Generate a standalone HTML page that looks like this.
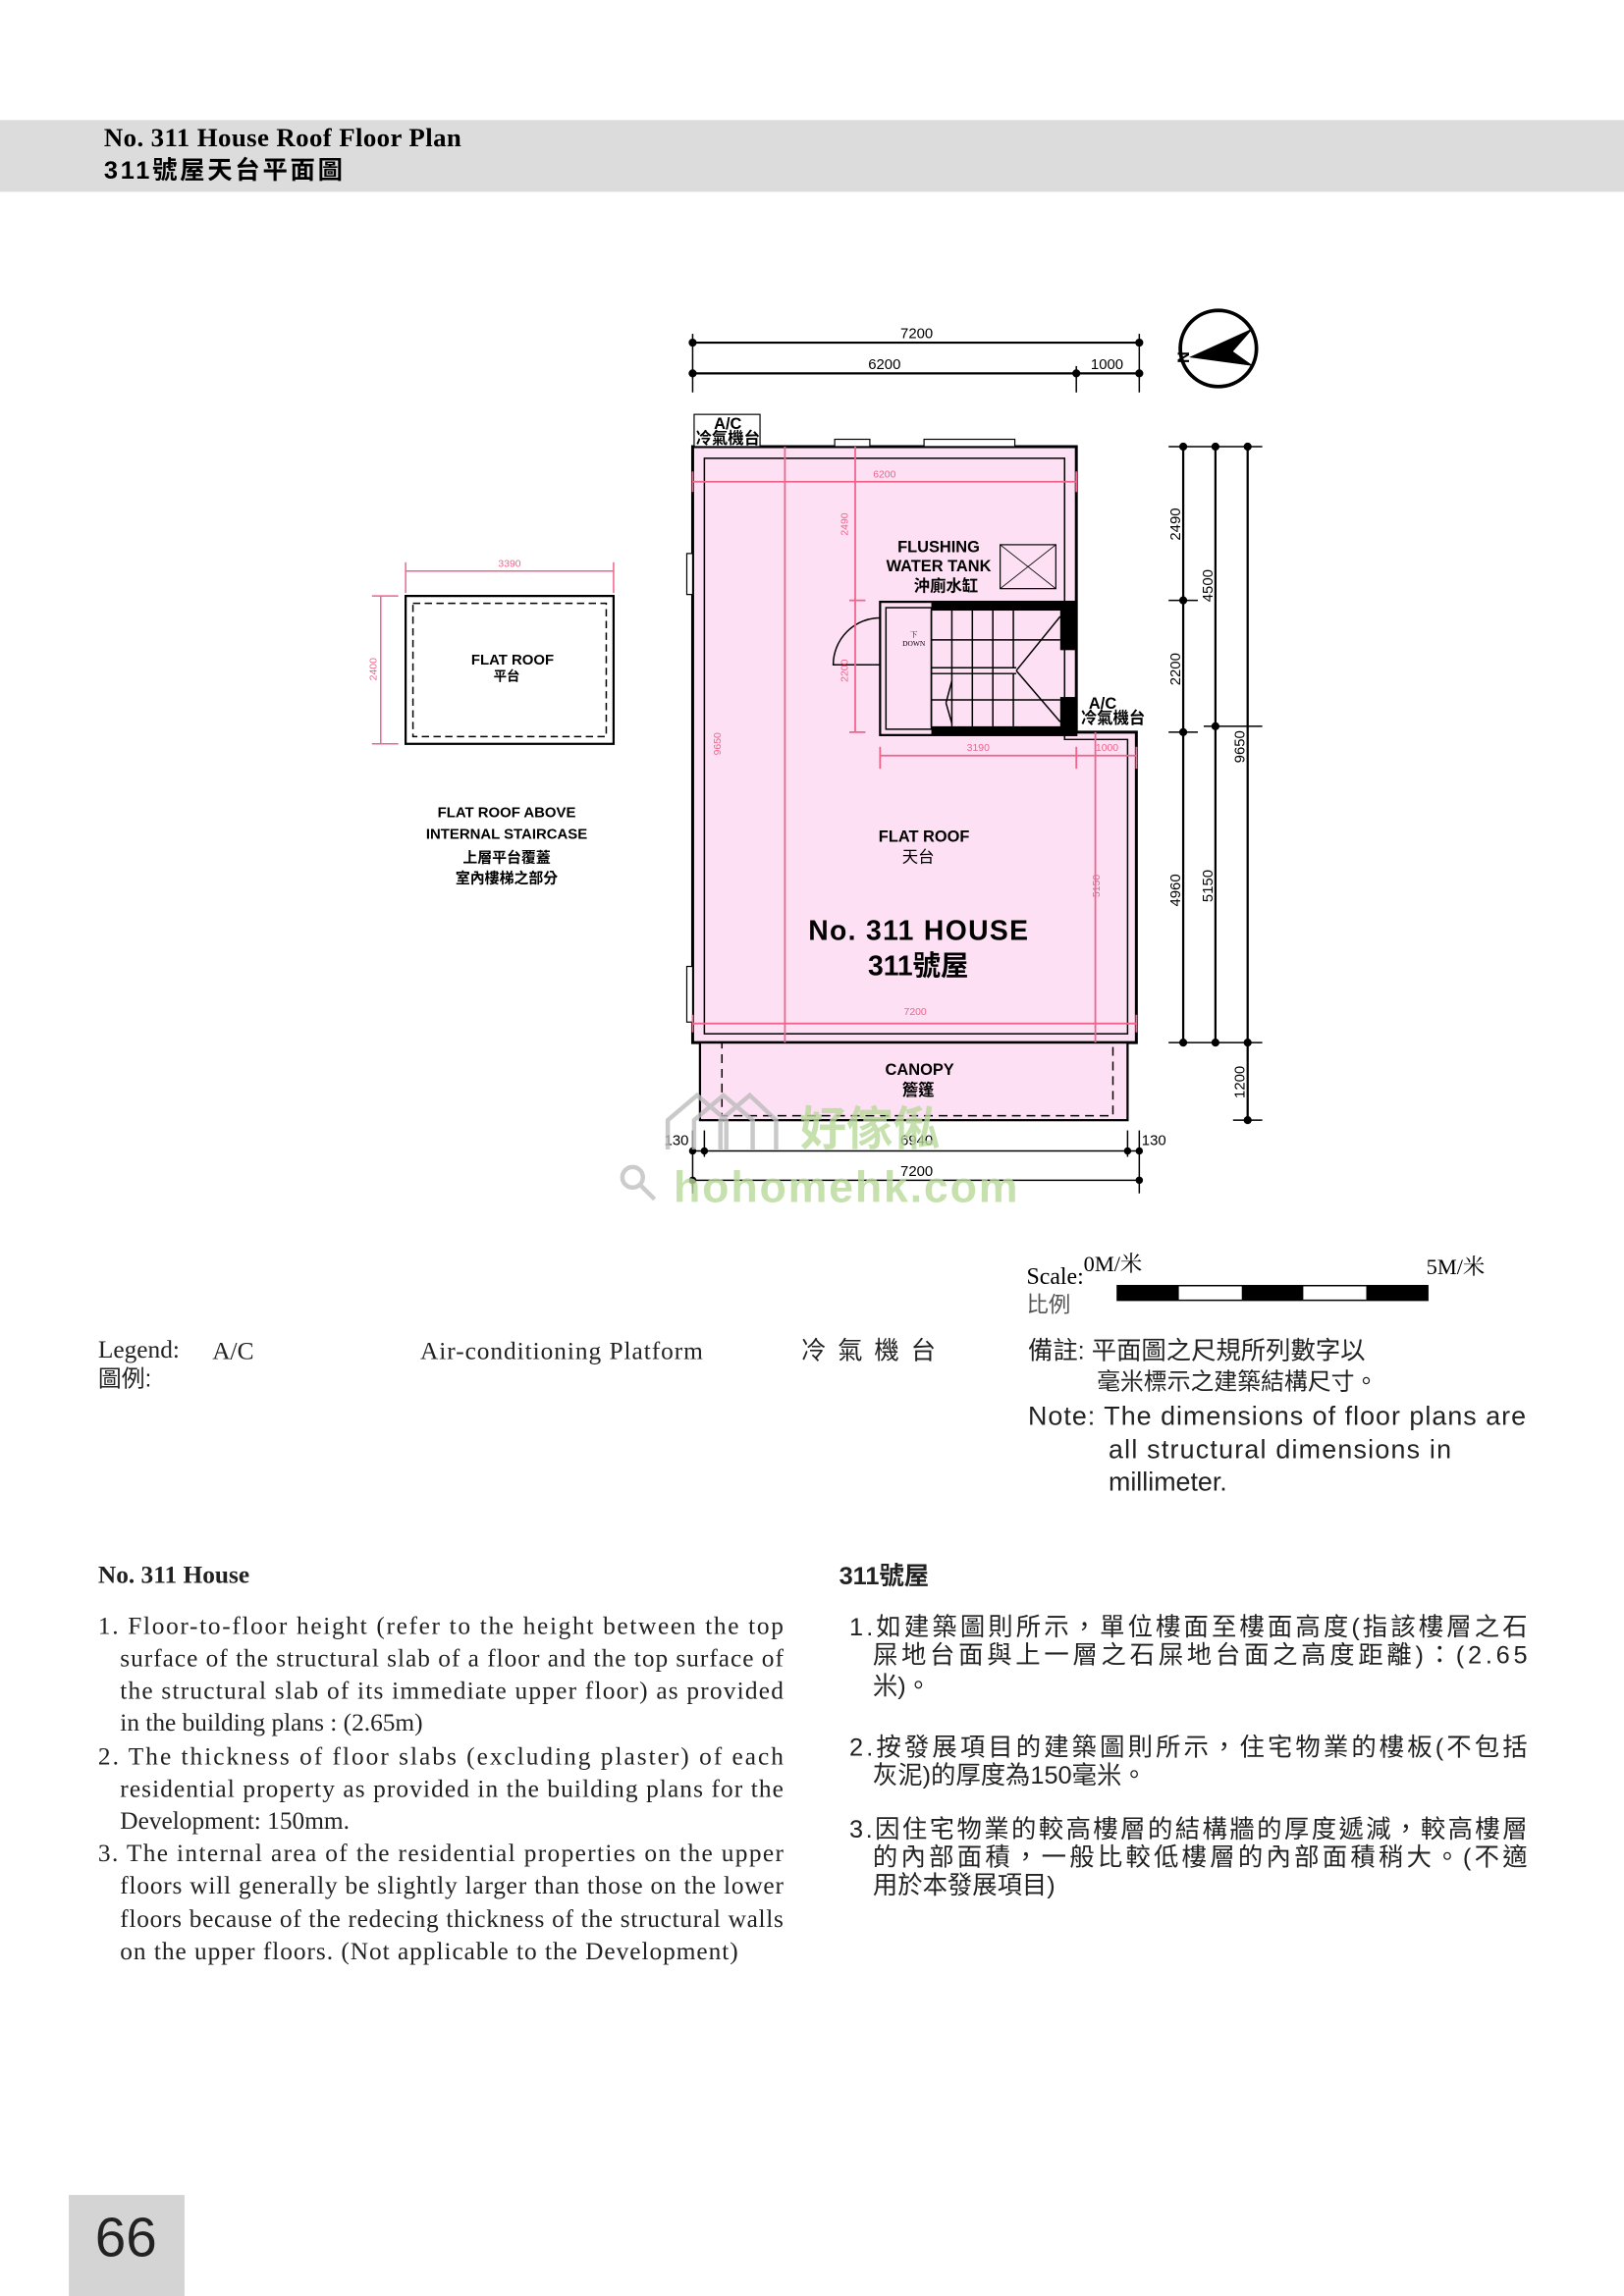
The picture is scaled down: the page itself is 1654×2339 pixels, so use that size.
<!DOCTYPE html>
<html><head><meta charset="utf-8"><style>
html,body{margin:0;padding:0;background:#fff}
svg{display:block}
.s{font-family:"Liberation Serif","Noto Serif CJK SC",serif}
.a{font-family:"Liberation Sans","Noto Sans CJK TC",sans-serif}
</style></head><body>
<svg width="1654" height="2339" viewBox="0 0 1109 1568" preserveAspectRatio="none" xmlns="http://www.w3.org/2000/svg">
<rect x="0" y="82" width="1109" height="49" fill="#dcdcdc"/>
<text x="71" y="100" class="s" font-size="18" font-weight="bold" textLength="244">No. 311 House Roof Floor Plan</text>
<text x="71" y="122" class="a" font-size="17" font-weight="bold" textLength="163">311號屋天台平面圖</text>

<!-- top dims -->
<g stroke="#000" stroke-width="1.5" fill="#000">
<line x1="473" y1="234" x2="778" y2="234"/><line x1="473" y1="255" x2="778" y2="255"/>
<line x1="473" y1="228" x2="473" y2="268" stroke-width="1"/><line x1="778" y1="228" x2="778" y2="268" stroke-width="1"/><line x1="735" y1="250" x2="735" y2="268" stroke-width="1"/>
<circle cx="473" cy="234" r="2"/><circle cx="778" cy="234" r="2"/><circle cx="473" cy="255" r="2"/><circle cx="735" cy="255" r="2"/><circle cx="778" cy="255" r="2"/>
</g>
<g class="a" font-size="10" text-anchor="middle"><text x="626" y="231">7200</text><text x="604" y="252">6200</text><text x="756" y="252">1000</text></g>
<!-- compass -->
<circle cx="832" cy="238" r="26" fill="none" stroke="#000" stroke-width="2.5"/>
<polygon points="812,244 856,224 842,240 856,250" fill="#000"/>
<text x="804" y="248" class="a" font-size="11" font-weight="bold" transform="rotate(-90 808 244)">N</text>

<!-- plan -->
<path d="M473,305 H735 V500 H776 V712 H473 Z" fill="#fde0f3" stroke="#000" stroke-width="2"/>
<path d="M481,313 H727 V505 H770 V706 H481 Z" fill="none" stroke="#000" stroke-width="1"/>
<rect x="478" y="712" width="292" height="53" fill="#fde0f3" stroke="#000" stroke-width="1.5"/>
<rect x="493" y="712" width="267" height="50" fill="none" stroke="#000" stroke-width="1" stroke-dasharray="6,4"/>
<rect x="474" y="283" width="45" height="22" fill="#fff" stroke="#000" stroke-width="0.8"/>
<rect x="570" y="300" width="24" height="5" fill="#fff" stroke="#000" stroke-width="0.8"/>
<rect x="631" y="300" width="62" height="5" fill="#fff" stroke="#000" stroke-width="0.8"/>
<rect x="469" y="378" width="4" height="28" fill="#fff" stroke="#000" stroke-width="0.8"/>
<rect x="469" y="660" width="4" height="38" fill="#fff" stroke="#000" stroke-width="0.8"/>
<!-- tank -->
<rect x="683" y="372" width="38" height="30" fill="none" stroke="#000" stroke-width="0.8"/>
<line x1="683" y1="372" x2="721" y2="402" stroke="#000" stroke-width="0.6"/><line x1="721" y1="372" x2="683" y2="402" stroke="#000" stroke-width="0.6"/>
<!-- stair -->
<rect x="601" y="411" width="134" height="91" fill="none" stroke="#000" stroke-width="1.5"/>
<rect x="636" y="411" width="99" height="6" fill="#000"/><rect x="636" y="496" width="99" height="6" fill="#000"/>
<rect x="724" y="411" width="11" height="33" fill="#000"/><rect x="724" y="476" width="11" height="26" fill="#000"/>
<rect x="605" y="415" width="31" height="83" fill="none" stroke="#000" stroke-width="1"/>
<g stroke="#000" stroke-width="1"><line x1="636" y1="417" x2="636" y2="496"/>
<line x1="650" y1="417" x2="650" y2="496"/><line x1="664" y1="417" x2="664" y2="496"/><line x1="678" y1="417" x2="678" y2="496"/><line x1="692" y1="417" x2="692" y2="456"/><line x1="692" y1="460" x2="692" y2="496"/>
<line x1="636" y1="456" x2="694" y2="456"/><line x1="636" y1="460" x2="694" y2="460"/><line x1="636" y1="437" x2="724" y2="437"/><line x1="636" y1="478" x2="724" y2="478"/>
<line x1="694" y1="458" x2="724" y2="421"/><line x1="694" y1="458" x2="724" y2="493"/>
<line x1="650" y1="465" x2="646" y2="480"/><line x1="646" y1="480" x2="650" y2="494"/>
<path d="M601,422 A32,32 0 0 0 569,454 H601" fill="none"/></g>
<text x="624" y="435" class="s" font-size="5" text-anchor="middle">下</text><text x="624" y="441" class="s" font-size="5" text-anchor="middle">DOWN</text>
<!-- pink dims -->
<g stroke="#f0648c" stroke-width="1.2" fill="none">
<line x1="473" y1="329" x2="735" y2="329"/><line x1="473" y1="322" x2="473" y2="336"/><line x1="735" y1="322" x2="735" y2="336"/>
<line x1="584" y1="305" x2="584" y2="500"/><line x1="580" y1="410" x2="591" y2="410"/><line x1="580" y1="500" x2="591" y2="500"/>
<line x1="536" y1="305" x2="536" y2="712"/><line x1="748" y1="500" x2="748" y2="712"/>
<line x1="601" y1="516" x2="776" y2="516"/><line x1="601" y1="510" x2="601" y2="525"/><line x1="735" y1="510" x2="735" y2="525"/><line x1="776" y1="510" x2="776" y2="525"/>
<line x1="473" y1="699" x2="776" y2="699"/><line x1="473" y1="693" x2="473" y2="705"/><line x1="776" y1="693" x2="776" y2="705"/>
</g>
<g class="a" font-size="7" fill="#f0648c" text-anchor="middle">
<text x="604" y="326">6200</text><text x="668" y="513">3190</text><text x="756" y="513">1000</text><text x="625" y="693">7200</text>
<text transform="translate(579 358) rotate(-90)">2490</text><text transform="translate(579 458) rotate(-90)">2200</text>
<text transform="translate(492 508) rotate(-90)">9650</text><text transform="translate(751 605) rotate(-90)">5150</text>
</g>
<!-- labels -->
<g class="a" font-weight="bold" text-anchor="middle" fill="#000">
<text x="497" y="293" font-size="11">A/C</text><text x="497" y="303" font-size="11">冷氣機台</text>
<text x="641" y="377" font-size="11">FLUSHING</text><text x="641" y="390" font-size="11">WATER TANK</text><text x="646" y="404" font-size="11">沖廁水缸</text>
<text x="753" y="484" font-size="11">A/C</text><text x="760" y="494" font-size="11">冷氣機台</text>
<text x="631" y="575" font-size="11">FLAT ROOF</text><text x="627" y="589" font-size="11" font-weight="normal">天台</text>
<text x="627" y="642" font-size="19" textLength="150">No. 311 HOUSE</text><text x="627" y="666" font-size="19">311號屋</text>
<text x="628" y="734" font-size="11">CANOPY</text><text x="627" y="748" font-size="11">簷篷</text>
</g>
<!-- right dims -->
<g stroke="#000" stroke-width="1.5" fill="#000">
<line x1="808" y1="305" x2="808" y2="712"/><line x1="830" y1="305" x2="830" y2="712"/><line x1="852" y1="305" x2="852" y2="765"/>
<line x1="798" y1="305" x2="862" y2="305" stroke-width="1"/><line x1="798" y1="712" x2="862" y2="712" stroke-width="1"/><line x1="798" y1="410" x2="818" y2="410" stroke-width="1"/><line x1="798" y1="500" x2="818" y2="500" stroke-width="1"/><line x1="822" y1="496" x2="862" y2="496" stroke-width="1"/><line x1="842" y1="765" x2="862" y2="765" stroke-width="1"/>
<circle cx="808" cy="305" r="2"/><circle cx="808" cy="410" r="2"/><circle cx="808" cy="500" r="2"/><circle cx="808" cy="712" r="2"/><circle cx="830" cy="305" r="2"/><circle cx="830" cy="496" r="2"/><circle cx="830" cy="712" r="2"/><circle cx="852" cy="305" r="2"/><circle cx="852" cy="712" r="2"/><circle cx="852" cy="765" r="2"/>
</g>
<g class="a" font-size="10" text-anchor="middle">
<text transform="translate(806 358) rotate(-90)">2490</text><text transform="translate(806 457) rotate(-90)">2200</text><text transform="translate(806 608) rotate(-90)">4960</text>
<text transform="translate(828 400) rotate(-90)">4500</text><text transform="translate(828 605) rotate(-90)">5150</text>
<text transform="translate(850 510) rotate(-90)">9650</text><text transform="translate(850 739) rotate(-90)">1200</text>
</g>
<!-- bottom dims -->
<g stroke="#000" stroke-width="1" fill="#000">
<line x1="473" y1="786" x2="778" y2="786"/><line x1="473" y1="806" x2="778" y2="806"/>
<line x1="473" y1="772" x2="473" y2="815"/><line x1="778" y1="772" x2="778" y2="815"/><line x1="481" y1="772" x2="481" y2="790"/><line x1="770" y1="772" x2="770" y2="790"/>
<circle cx="473" cy="786" r="2"/><circle cx="481" cy="786" r="2"/><circle cx="770" cy="786" r="2"/><circle cx="778" cy="786" r="2"/><circle cx="473" cy="806" r="2"/><circle cx="778" cy="806" r="2"/>
</g>
<g class="a" font-size="10" text-anchor="middle"><text x="462" y="782">130</text><text x="626" y="782">6940</text><text x="788" y="782">130</text><text x="626" y="803">7200</text></g>
<!-- watermark -->
<g fill="#b9d99a" opacity="0.8" class="a" font-weight="bold">
<text x="546" y="782" font-size="32">好傢俬</text><text x="460" y="821" font-size="30" textLength="235">hohomehk.com</text></g>
<path d="M456,785 V765 L476,748 L496,765 V785 M474,785 V765 L494,748 L514,765 V785 M492,785 V765 L512,748 L530,765 V785" fill="none" stroke="#bbb" stroke-width="3" opacity="0.8"/>
<circle cx="432" cy="804" r="7" fill="none" stroke="#ccc" stroke-width="3"/><line x1="437" y1="809" x2="447" y2="819" stroke="#ccc" stroke-width="3"/>

<!-- flat roof small -->
<rect x="277" y="407" width="142" height="101" fill="none" stroke="#000" stroke-width="1.5"/>
<rect x="282" y="412" width="132" height="91" fill="none" stroke="#000" stroke-width="1" stroke-dasharray="5,3"/>
<g stroke="#f0648c" stroke-width="1"><line x1="277" y1="390" x2="419" y2="390"/><line x1="277" y1="384" x2="277" y2="405"/><line x1="419" y1="384" x2="419" y2="405"/>
<line x1="260" y1="407" x2="260" y2="508"/><line x1="254" y1="407" x2="272" y2="407"/><line x1="254" y1="508" x2="272" y2="508"/></g>
<g class="a" font-size="7" fill="#f0648c" text-anchor="middle"><text x="348" y="387">3390</text><text transform="translate(257 457) rotate(-90)">2400</text></g>
<g class="a" font-size="10" font-weight="bold" text-anchor="middle">
<text x="350" y="454">FLAT ROOF</text><text x="346" y="465" font-size="9">平台</text>
<text x="346" y="558">FLAT ROOF ABOVE</text><text x="346" y="573">INTERNAL STAIRCASE</text><text x="346" y="589">上層平台覆蓋</text><text x="346" y="603">室內樓梯之部分</text></g>

<!-- scale -->
<g class="s" font-size="16"><text x="701" y="877">Scale:</text><text x="701" y="896" class="a" font-size="15" fill="#555">比例</text><text x="740" y="868" font-size="15">0M/米</text><text x="974" y="870" font-size="15">5M/米</text></g>
<rect x="763" y="878" width="212" height="10" fill="#fff" stroke="#000" stroke-width="1"/>
<g fill="#000"><rect x="763" y="878" width="42" height="10"/><rect x="848" y="878" width="42" height="10"/><rect x="933" y="878" width="42" height="10"/></g>

<!-- legend -->
<g class="s" font-size="17" fill="#222"><text x="67" y="927">Legend:</text><text x="67" y="947" class="a" font-size="16">圖例:</text><text x="145" y="928">A/C</text><text x="287" y="928" textLength="193">Air-conditioning Platform</text></g>
<g class="a" font-size="17" fill="#222"><text x="547" y="928" textLength="92">冷氣機台</text>
<text x="702" y="928">備註: 平面圖之尺規所列數字以</text><text x="749" y="949" font-size="16">毫米標示之建築結構尺寸。</text>
<text x="702" y="973" font-size="18" textLength="340">Note: The dimensions of floor plans are</text><text x="757" y="996" font-size="18" textLength="234">all structural dimensions in</text><text x="757" y="1018" font-size="18">millimeter.</text></g>

<!-- notes -->
<g class="s" font-size="17" fill="#222">
<text x="67" y="1081" font-weight="bold">No. 311 House</text>
<text x="67" y="1116" textLength="468">1. Floor-to-floor height (refer to the height between the top</text>
<text x="82" y="1138" textLength="453">surface of the structural slab of a floor and the top surface of</text>
<text x="82" y="1160" textLength="453">the structural slab of its immediate upper floor) as provided</text>
<text x="82" y="1182">in the building plans : (2.65m)</text>
<text x="67" y="1205" textLength="468">2. The thickness of floor slabs (excluding plaster) of each</text>
<text x="82" y="1227" textLength="453">residential  property as provided in the building plans for the</text>
<text x="82" y="1249">Development: 150mm.</text>
<text x="67" y="1271" textLength="468">3. The internal area of the residential properties on the upper</text>
<text x="82" y="1293" textLength="453">floors will generally be slightly larger than those on the lower</text>
<text x="82" y="1316" textLength="453">floors because of the redecing thickness of the structural walls</text>
<text x="82" y="1338" textLength="422">on the upper floors. (Not applicable to the Development)</text>
</g>
<g class="a" font-size="17" fill="#222">
<text x="573" y="1082" font-weight="bold">311號屋</text>
<text x="580" y="1117" textLength="463">1.如建築圖則所示，單位樓面至樓面高度(指該樓層之石</text>
<text x="596" y="1136" textLength="447">屎地台面與上一層之石屎地台面之高度距離)：(2.65</text>
<text x="596" y="1157">米)。</text>
<text x="580" y="1199" textLength="463">2.按發展項目的建築圖則所示，住宅物業的樓板(不包括</text>
<text x="596" y="1218">灰泥)的厚度為150毫米。</text>
<text x="580" y="1255" textLength="463">3.因住宅物業的較高樓層的結構牆的厚度遞減，較高樓層</text>
<text x="596" y="1274" textLength="447">的內部面積，一般比較低樓層的內部面積稍大。(不適</text>
<text x="596" y="1293">用於本發展項目)</text>
</g>
<rect x="47" y="1499" width="79" height="69" fill="#d4d4d4"/>
<text x="86" y="1541" class="a" font-size="38" text-anchor="middle" fill="#222">66</text>
</svg>
</body></html>
